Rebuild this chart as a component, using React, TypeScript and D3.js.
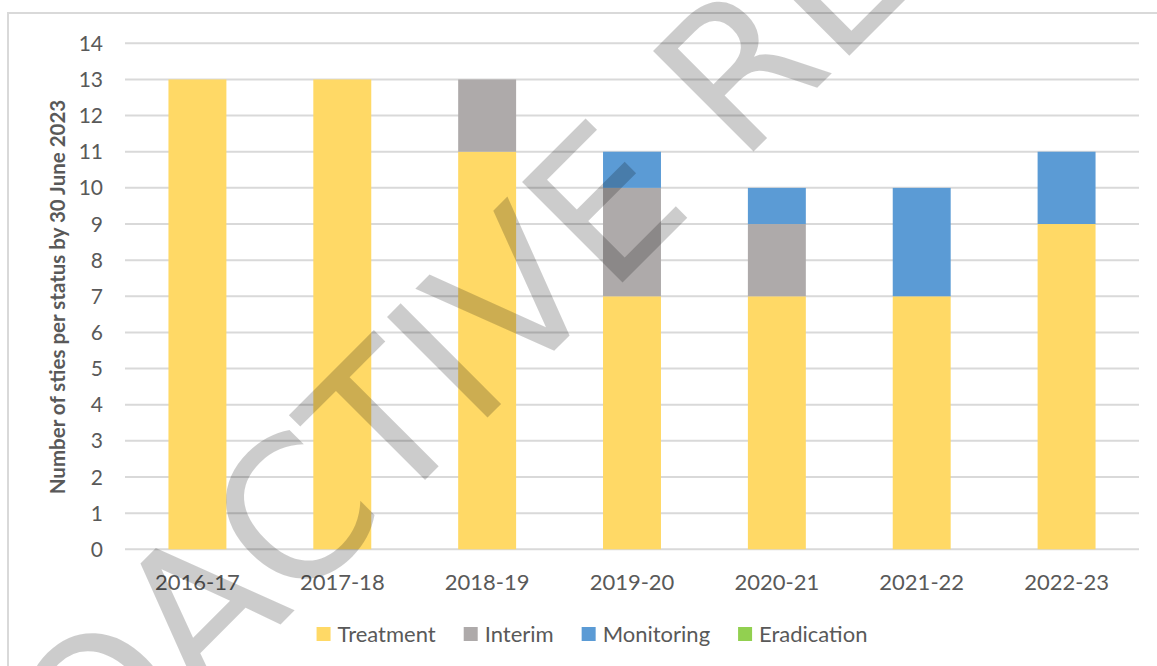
import React from "react";
import * as d3 from "d3";

const categories = ["2016-17", "2017-18", "2018-19", "2019-20", "2020-21", "2021-22", "2022-23"];
const seriesNames = ["Treatment", "Interim", "Monitoring", "Eradication"];
const treatment = [13, 13, 11, 7, 7, 7, 9];
const interim = [0, 0, 2, 3, 2, 0, 0];
const monitoring = [0, 0, 0, 1, 1, 3, 2];
const eradication = [0, 0, 0, 0, 0, 0, 0];
const seriesColors = ["#FFD966", "#AEAAAA", "#5B9BD5", "#92D050"];
const yTicks = [0, 1, 2, 3, 4, 5, 6, 7, 8, 9, 10, 11, 12, 13, 14];
const yTitle = "Number of sties per status by 30 June 2023";
const watermark = "PROACTIVE RELEASE";

const W = 1157;
const H = 666;
const FONT = "Lato, 'Open Sans', sans-serif";
const TXT = "#595959";

function measure(text: string, font: string): number {
  if (typeof document === "undefined") return text.length * 10;
  const c = document.createElement("canvas");
  const ctx = c.getContext("2d");
  if (!ctx) return text.length * 10;
  ctx.font = font;
  return ctx.measureText(text).width;
}

export default function App() {
  const x = d3
    .scaleBand<string>()
    .domain(categories)
    .range([125, 1139])
    .paddingInner(0.6)
    .paddingOuter(0.3);
  const y = d3.scaleLinear().domain([0, 14]).range([549.3, 43.3]);

  const table = categories.map((c, i) => ({
    cat: c,
    Treatment: treatment[i],
    Interim: interim[i],
    Monitoring: monitoring[i],
    Eradication: eradication[i],
  }));
  const stack = d3.stack<any>().keys(seriesNames)(table);

  const legendFont = `22px ${FONT}`;
  const sq = 14;
  const sqGap = 7;
  const itemGap = 28;
  const widths = seriesNames.map((n) => sq + sqGap + measure(n, legendFont));
  const total = d3.sum(widths) + itemGap * (seriesNames.length - 1);
  let lx = 592 - total / 2;
  const legendItems = seriesNames.map((n, i) => {
    const item = { name: n, x: lx, color: seriesColors[i] };
    lx += widths[i] + itemGap;
    return item;
  });
  const legendY = 634;

  return (
    <svg
      width={W}
      height={H}
      style={{ position: "absolute", left: 0, top: 0, display: "block", background: "#fff" }}
    >
      <rect x={8} y={13} width={1300} height={800} fill="#fff" stroke="#d9d9d9" strokeWidth={2} />
      {yTicks.map((t) => (
        <line key={"g" + t} x1={125} x2={1139} y1={y(t)} y2={y(t)} stroke="#d9d9d9" strokeWidth={2} />
      ))}
      {yTicks.map((t) => (
        <text
          key={"t" + t}
          x={103}
          y={y(t)}
          dy="0.36em"
          textAnchor="end"
          fontFamily={FONT}
          fontSize={21}
          fill={TXT}
        >
          {t}
        </text>
      ))}
      <text
        transform={`translate(65,297) rotate(-90)`}
        textAnchor="middle"
        fontFamily={FONT}
        fontSize={20.5}
        fontWeight={700}
        fill={TXT}
      >
        {yTitle}
      </text>
      {stack.map((s, si) =>
        s.map((d, i) =>
          d[1] - d[0] > 0 ? (
            <rect
              key={`b${si}-${i}`}
              x={x(categories[i])}
              y={y(d[1])}
              width={x.bandwidth()}
              height={y(d[0]) - y(d[1])}
              fill={seriesColors[si]}
            />
          ) : null
        )
      )}
      {categories.map((c) => (
        <text
          key={"x" + c}
          x={(x(c) as number) + x.bandwidth() / 2}
          y={590}
          textAnchor="middle"
          fontFamily={FONT}
          fontSize={22}
          fill={TXT}
        >
          {c}
        </text>
      ))}
      {legendItems.map((it) => (
        <g key={"l" + it.name}>
          <rect x={it.x} y={legendY - sq / 2} width={sq} height={sq} fill={it.color} />
          <text
            x={it.x + sq + sqGap}
            y={legendY}
            dy="0.36em"
            fontFamily={FONT}
            fontSize={22}
            fill={TXT}
          >
            {it.name}
          </text>
        </g>
      ))}
      <text
        transform="translate(-83.5,988.5) rotate(-45)"
        fontFamily="'DejaVu Sans', sans-serif"
        fontSize={195}
        fill="#000"
        fillOpacity={0.2}
      >
        {watermark}
      </text>
    </svg>
  );
}
